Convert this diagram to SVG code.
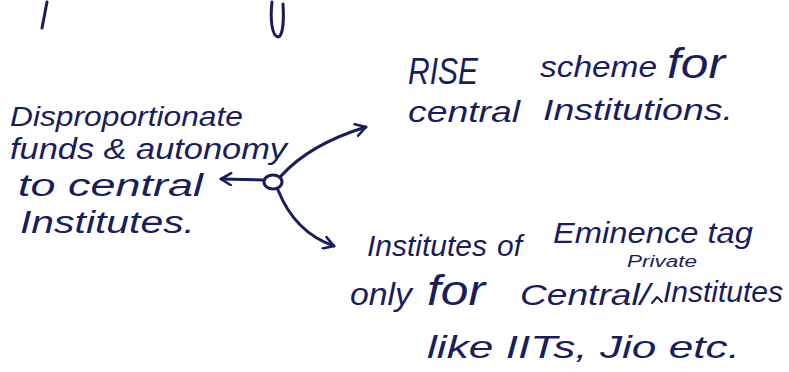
<svg xmlns="http://www.w3.org/2000/svg" width="789" height="372" viewBox="0 0 789 372">
<defs>
<style>
.t{font-family:"Liberation Sans","DejaVu Sans",sans-serif;font-size:30px;fill:#1a1d5c;font-style:italic}
.s{font-size:16px}
.ink{fill:none;stroke:#1a1d5c;stroke-width:3;stroke-linecap:round;stroke-linejoin:round}
</style>
<marker id="chev" viewBox="0 0 14 14" refX="12" refY="7" markerWidth="14" markerHeight="14" markerUnits="userSpaceOnUse" orient="auto">
<path d="M2,1 L12,7 L2,13" fill="none" stroke="#1a1d5c" stroke-width="2.6" stroke-linecap="round" stroke-linejoin="round"/>
</marker>
</defs>
<rect width="789" height="372" fill="#ffffff"/>
<g id="fragments">
<path class="ink" d="M47,2 L42,28"/>
<path class="ink" d="M272,2 C270,20 272,36 278,37 C283,36 284,20 283,4"/>
</g>
<g id="connectors">
<path class="ink" d="M264,180 L221,179" marker-end="url(#chev)"/>
<path class="ink" d="M281,176 C300,155 330,138 366,127" marker-end="url(#chev)"/>
<path class="ink" d="M278,190 C288,215 305,236 334,246" marker-end="url(#chev)"/>
</g>
<g id="hub">
<ellipse class="ink" cx="273" cy="182" rx="9" ry="7"/>
</g>
<g id="node-disproportionate">
<text class="t" x="10" y="126" textLength="233" lengthAdjust="spacingAndGlyphs" style="font-size:28px">Disproportionate</text>
<text class="t" x="10" y="159" textLength="277" lengthAdjust="spacingAndGlyphs">funds &amp; autonomy</text>
<text class="t" x="18" y="196" textLength="185" lengthAdjust="spacingAndGlyphs" style="font-size:31px">to central</text>
<text class="t" x="20" y="233" textLength="175" lengthAdjust="spacingAndGlyphs" style="font-size:31px">Institutes.</text>
</g>
<g id="node-rise">
<text class="t" x="408" y="84" textLength="70" lengthAdjust="spacingAndGlyphs" style="font-size:36px">RISE</text>
<text class="t" x="540" y="77" textLength="117" lengthAdjust="spacingAndGlyphs">scheme</text>
<text class="t" x="667" y="78" textLength="58" lengthAdjust="spacingAndGlyphs" style="font-size:42px">for</text>
<text class="t" x="408" y="122" textLength="112" lengthAdjust="spacingAndGlyphs">central</text>
<text class="t" x="543" y="120" textLength="190" lengthAdjust="spacingAndGlyphs">Institutions.</text>
</g>
<g id="node-ioe">
<text class="t" x="367" y="256" textLength="120" lengthAdjust="spacingAndGlyphs">Institutes</text>
<text class="t" x="497" y="256" textLength="25" lengthAdjust="spacingAndGlyphs">of</text>
<text class="t" x="553" y="243" textLength="200" lengthAdjust="spacingAndGlyphs">Eminence tag</text>
<text class="t s" x="627" y="267" textLength="70" lengthAdjust="spacingAndGlyphs">Private</text>
<text class="t" x="350" y="305" textLength="62" lengthAdjust="spacingAndGlyphs" style="font-size:32px">only</text>
<text class="t" x="427" y="305" textLength="58" lengthAdjust="spacingAndGlyphs" style="font-size:42px">for</text>
<text class="t" x="520" y="305" textLength="130" lengthAdjust="spacingAndGlyphs">Central/</text>
<path class="ink" d="M652,303 L657,297 L662,302" style="stroke-width:2"/>
<text class="t" x="663" y="302" textLength="120" lengthAdjust="spacingAndGlyphs">Institutes</text>
<text class="t" x="427" y="358" textLength="313" lengthAdjust="spacingAndGlyphs" style="font-size:32px">like IITs, Jio etc.</text>
</g>
</svg>
